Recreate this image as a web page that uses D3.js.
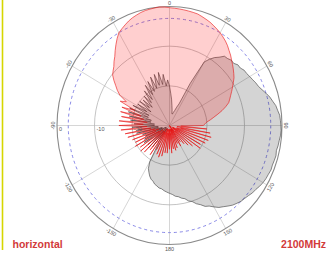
<!DOCTYPE html>
<html>
<head>
<meta charset="utf-8">
<script src="https://cdn.jsdelivr.net/npm/d3@7"></script>
<style>
body { margin: 0; background: #fff; }
svg { display: block; }
</style>
</head>
<body>
<div id="chart"></div>
<script>
// antenna pattern, dB at every 2.5 deg, 0 = top, clockwise
const stepDeg = 2.5;
const redDb = [
  -0.3, -0.4, -0.5, -0.6, -0.7, -0.8, -0.9, -1.2, -1.5, -1.8, -2.2, -2.6,
  -3.0, -3.5, -4.0, -4.6, -5.3, -5.9, -6.6, -7.2, -7.8, -8.4, -9.0, -9.8,
  -10.6, -11.3, -12.0, -12.6, -13.2, -14.3, -15.5, -16.8, -18.0, -19.0, -20.0, -20.5,
  -21, -27, -20, -28, -19, -27, -18.5, -28, -19, -28, -19.5, -29,
  -20.5, -29, -20, -29, -22, -28, -23, -29, -24, -30, -25, -29,
  -24, -30, -25, -29, -24, -29, -23.5, -29, -24, -28, -23, -29,
  -24, -29, -23, -28, -23, -29, -22, -28, -21.5, -29, -22, -29,
  -23, -28, -21, -28, -22, -29, -20.5, -28, -20, -27, -20.5, -28,
  -19.5, -27, -20, -26, -19.5, -27, -18.5, -26, -18, -25, -17, -24,
  -16.5, -23, -16.5, -24, -17, -23, -16.5, -22, -16.5, -20, -15.5, -17,
  -14.7, -13.5, -12.5, -11.3, -10.2, -9.6, -9.0, -8.1, -7.3, -6.2, -5.1, -4.0,
  -3.0, -2.5, -2.0, -1.5, -1.1, -0.8, -0.5, -0.3, -0.2, -0.1, 0, -0.1
];
const grayDb = [
  -20, -22, -23.5, -25, -26, -27, -27, -26.5, -26, -25, -24, -18,
  -11.5, -10.2, -9.1, -8.3, -7.2, -7.1, -6.7, -6.8, -6.2, -6.2, -5.7, -5.6,
  -5.3, -5.0, -4.6, -4.3, -3.7, -3.0, -2.3, -1.8, -1.2, -0.9, -0.5, -0.4,
  -0.3, -0.2, -0.3, -0.5, -0.6, -0.8, -0.6, -0.7, -0.8, -0.7, -0.9, -1.0,
  -1.2, -1.5, -1.9, -2.1, -2.5, -2.8, -3.0, -3.4, -3.8, -4.4, -5.0, -5.5,
  -6.3, -7.1, -7.5, -8.4, -9.0, -9.9, -10.3, -11.1, -11.4, -11.9, -12.1, -12.6,
  -12.9, -13.2, -13.5, -13.9, -14.0, -14.4, -14.7, -15.3, -15.6, -16.2, -17.0, -17.8,
  -19.5, -24, -25, -29, -23, -29, -22, -28, -22.5, -29, -25, -22,
  -28, -22.5, -29, -23, -28, -22.5, -28, -21, -27, -21.5, -27, -20,
  -26, -20.5, -26, -19.5, -25, -19, -25, -18.5, -24, -18.5, -24, -19,
  -23, -20, -24, -20, -23, -20.5, -23.5, -20, -22.5, -19, -22, -18,
  -21, -17.5, -20.5, -16.8, -20, -16.5, -19.5, -16.3, -19.5, -17, -20, -18.5
];
const spokeAngles = [0, 30, 60, 90, 120, 150, 180, -150, -120, -90, -60, -30];
const ringDb = [-20, -10, 0];
const ringLabels = ["-20", "-10", "0"];
const dashedDb = -3;
const leftLabel = "horizontal";
const rightLabel = "2100MHz";

const W = 332, H = 258;
const cx = 169.5, cy = 125.5, rx = 112.5, ry = 119;

const svg = d3.select("#chart").append("svg")
    .attr("width", W)
    .attr("height", H);

const r = d3.scaleLinear().domain([-30, 0]).range([0, 1]).clamp(true);
const rad = d => d * Math.PI / 180;
const px = (deg, db) => cx + rx * r(db) * Math.sin(rad(deg));
const py = (deg, db) => cy - ry * r(db) * Math.cos(rad(deg));

// yellow edge
svg.append("line")
    .attr("x1", 2.5).attr("x2", 2.5).attr("y1", 0).attr("y2", 250)
    .attr("stroke", "#d6d600").attr("stroke-width", 1.6);

// grid
var grid = svg.append("g");
grid.selectAll("line.spoke")
    .data(spokeAngles)
    .enter().append("line")
    .attr("x1", cx).attr("y1", cy)
    .attr("x2", d => px(d, 0)).attr("y2", d => py(d, 0))
    .attr("stroke", "#c4c4c4").attr("stroke-width", 0.7);

grid.selectAll("ellipse.ring")
    .data(ringDb)
    .enter().append("ellipse")
    .attr("cx", cx).attr("cy", cy)
    .attr("rx", d => rx * r(d)).attr("ry", d => ry * r(d))
    .attr("fill", "none")
    .attr("stroke", d => d === 0 ? "#8a8a8a" : "#aaaaaa")
    .attr("stroke-width", d => d === 0 ? 1.1 : 0.7);

grid.append("ellipse")
    .attr("cx", cx).attr("cy", cy)
    .attr("rx", rx * r(dashedDb)).attr("ry", ry * r(dashedDb))
    .attr("fill", "none")
    .attr("stroke", "#6a6ae0").attr("stroke-width", 0.8)
    .attr("stroke-dasharray", "3,3");

// patterns
const line = d3.line()
    .x(d => px(d.a, d.v))
    .y(d => py(d.a, d.v))
    .curve(d3.curveLinearClosed);

const grayPts = grayDb.map((v, i) => ({a: i * stepDeg, v: v}));
const redPts = redDb.map((v, i) => ({a: i * stepDeg, v: v}));

svg.append("path")
    .attr("d", line(grayPts))
    .attr("fill", "rgba(0,0,0,0.17)")
    .attr("stroke", "#3a3a3a").attr("stroke-width", 0.6);

svg.append("path")
    .attr("d", line(redPts))
    .attr("fill", "rgba(255,0,0,0.19)")
    .attr("stroke", "#e81010").attr("stroke-width", 0.6);

// angle labels
svg.selectAll("text.ang")
    .data(spokeAngles)
    .enter().append("text")
    .attr("transform", d => {
        const x = cx + (rx + 4) * Math.sin(rad(d));
        const y = cy - (ry + 4) * Math.cos(rad(d));
        const rot = Math.abs(d) <= 90 ? d : d + 180;
        return "translate(" + x + "," + y + ") rotate(" + rot + ")";
    })
    .attr("text-anchor", "middle")
    .attr("dominant-baseline", "central")
    .attr("font-family", "Liberation Sans, Arial, sans-serif")
    .attr("font-size", 5.5)
    .attr("fill", "#555")
    .text(d => d);

// ring labels
svg.selectAll("text.ring")
    .data(ringDb)
    .enter().append("text")
    .attr("x", d => cx - rx * r(d) + 2)
    .attr("y", cy + 5.5)
    .attr("font-family", "Liberation Sans, Arial, sans-serif")
    .attr("font-size", 5.5)
    .attr("fill", "#555")
    .text((d, i) => ringLabels[i]);

// captions
svg.append("text")
    .attr("x", 12.5).attr("y", 248)
    .attr("font-family", "Liberation Sans, Arial, sans-serif")
    .attr("font-weight", "bold")
    .attr("font-size", 10.5)
    .attr("fill", "#d23a3a")
    .text(leftLabel);

svg.append("text")
    .attr("x", 326).attr("y", 248)
    .attr("text-anchor", "end")
    .attr("font-family", "Liberation Sans, Arial, sans-serif")
    .attr("font-weight", "bold")
    .attr("font-size", 10.5)
    .attr("fill", "#d23a3a")
    .text(rightLabel);
</script>
</body>
</html>
